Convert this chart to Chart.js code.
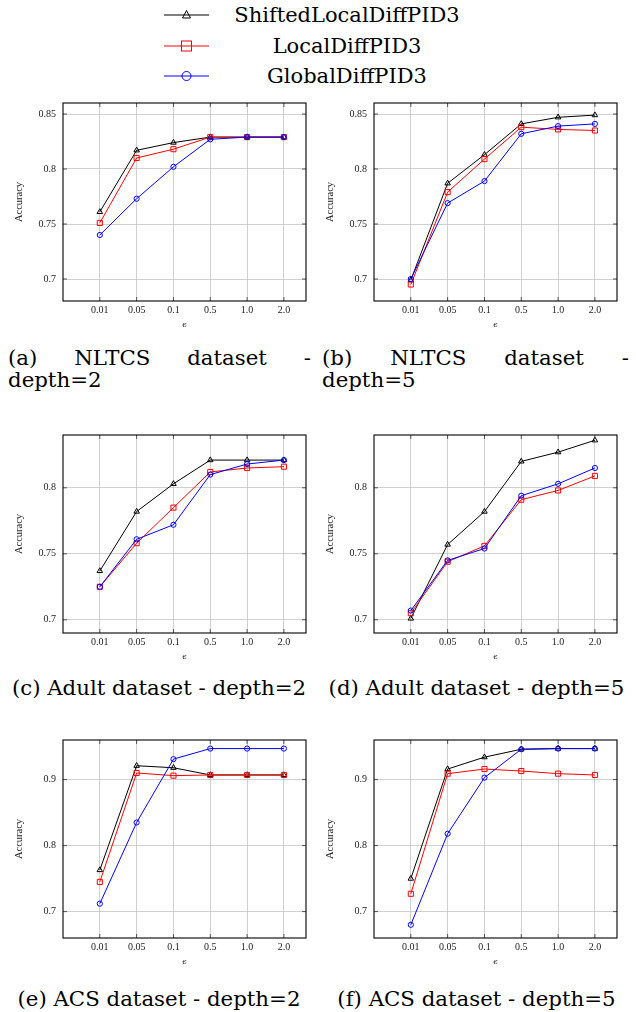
<!DOCTYPE html>
<html>
<head>
<meta charset="utf-8">
<script src="https://cdn.jsdelivr.net/npm/chart.js@4/dist/chart.umd.min.js"></script>
<style>
  html, body { margin: 0; padding: 0; background: #fff; }
  body { position: relative; width: 636px; height: 1012px; overflow: hidden; }
  canvas.panel { position: absolute; }
  .leg-row { position: absolute; left: 0; width: 636px; height: 30px; }
  .leg-row svg { position: absolute; left: 163px; top: 0; }
  .leg-row span {
    position: absolute; left: 225px; width: 244px; text-align: center;
    font-family: "DejaVu Serif", serif; font-size: 21px; line-height: 30px; color: #000;
  }
  .cap {
    position: absolute; font-family: "DejaVu Serif", serif; font-size: 21.3px;
    line-height: 22px; color: #000;
  }
  .cap.just { text-align: justify; text-align-last: justify; }
  .cap.mid { text-align: center; white-space: nowrap; }
</style>
</head>
<body>

<div class="leg-row" style="top:0px">
  <svg width="48" height="30"><line x1="1" y1="15" x2="46" y2="15" stroke="#000" stroke-width="1"/>
    <polygon points="23.5,10.5 27.5,18 19.5,18" fill="none" stroke="#000" stroke-width="1"/></svg>
  <span>ShiftedLocalDiffPID3</span>
</div>
<div class="leg-row" style="top:31px">
  <svg width="48" height="30"><line x1="1" y1="15" x2="46" y2="15" stroke="#f00" stroke-width="1"/>
    <rect x="18.5" y="10" width="10" height="10" fill="none" stroke="#f00" stroke-width="1"/></svg>
  <span>LocalDiffPID3</span>
</div>
<div class="leg-row" style="top:61px">
  <svg width="48" height="30"><line x1="1" y1="15" x2="46" y2="15" stroke="#00f" stroke-width="1"/>
    <circle cx="23.5" cy="15" r="4.5" fill="none" stroke="#00f" stroke-width="1"/></svg>
  <span>GlobalDiffPID3</span>
</div>

<canvas class="panel" id="chartA" width="311" height="245" style="left:5px;top:90px"></canvas>
<canvas class="panel" id="chartB" width="311" height="245" style="left:316px;top:90px"></canvas>
<canvas class="panel" id="chartC" width="311" height="245" style="left:5px;top:422px"></canvas>
<canvas class="panel" id="chartD" width="311" height="245" style="left:316px;top:422px"></canvas>
<canvas class="panel" id="chartE" width="311" height="245" style="left:5px;top:727px"></canvas>
<canvas class="panel" id="chartF" width="311" height="245" style="left:316px;top:727px"></canvas>

<div class="cap just" style="left:8px;top:347px;width:303px">(a) NLTCS dataset -<br>depth=2</div>
<div class="cap just" style="left:322px;top:347px;width:307px">(b) NLTCS dataset -<br>depth=5</div>
<div class="cap mid" style="left:8px;top:677px;width:302px">(c) Adult dataset - depth=2</div>
<div class="cap mid" style="left:323px;top:677px;width:307px">(d) Adult dataset - depth=5</div>
<div class="cap mid" style="left:8px;top:988px;width:302px">(e) ACS dataset - depth=2</div>
<div class="cap mid" style="left:323px;top:988px;width:307px">(f) ACS dataset - depth=5</div>

<script>
// epsilon values on the x axis
const epsLabels = ["0.01", "0.05", "0.1", "0.5", "1.0", "2.0"];
const seriesNames = ["ShiftedLocalDiffPID3", "LocalDiffPID3", "GlobalDiffPID3"];

// NLTCS, depth=2
const nltcs2Shifted = [0.761, 0.817, 0.824, 0.829, 0.829, 0.829];
const nltcs2Local = [0.751, 0.810, 0.818, 0.829, 0.829, 0.829];
const nltcs2Global = [0.740, 0.773, 0.802, 0.827, 0.829, 0.829];

// NLTCS, depth=5
const nltcs5Shifted = [0.699, 0.787, 0.813, 0.841, 0.847, 0.849];
const nltcs5Local = [0.695, 0.779, 0.809, 0.838, 0.836, 0.835];
const nltcs5Global = [0.700, 0.769, 0.789, 0.832, 0.839, 0.841];

// Adult, depth=2
const adult2Shifted = [0.737, 0.782, 0.803, 0.821, 0.821, 0.821];
const adult2Local = [0.725, 0.758, 0.785, 0.812, 0.815, 0.816];
const adult2Global = [0.725, 0.761, 0.772, 0.810, 0.818, 0.821];

// Adult, depth=5
const adult5Shifted = [0.701, 0.757, 0.782, 0.820, 0.827, 0.836];
const adult5Local = [0.705, 0.744, 0.756, 0.791, 0.798, 0.809];
const adult5Global = [0.707, 0.745, 0.754, 0.794, 0.803, 0.815];

// ACS, depth=2
const acs2Shifted = [0.763, 0.921, 0.918, 0.907, 0.907, 0.907];
const acs2Local = [0.745, 0.910, 0.906, 0.907, 0.907, 0.907];
const acs2Global = [0.712, 0.835, 0.931, 0.947, 0.947, 0.947];

// ACS, depth=5
const acs5Shifted = [0.750, 0.916, 0.934, 0.946, 0.947, 0.947];
const acs5Local = [0.727, 0.909, 0.916, 0.913, 0.909, 0.907];
const acs5Global = [0.680, 0.818, 0.903, 0.946, 0.947, 0.947];

// y ticks
const ticksNltcs = [0.7, 0.75, 0.8, 0.85];
const ticksAdult = [0.7, 0.75, 0.8];
const ticksAcs = [0.7, 0.8, 0.9];

const styles = [
  { color: "#000000", point: "triangle", radius: 3.2, order: 3 },
  { color: "#ff0000", point: "rect", radius: 3.6, order: 2 },
  { color: "#0000ff", point: "circle", radius: 2.6, order: 1 },
];

// black frame with small inner tick marks, like pgfplots
const framePlugin = {
  id: "frame",
  afterDraw(chart) {
    const { ctx, chartArea: a, scales } = chart;
    ctx.save();
    ctx.strokeStyle = "#333";
    ctx.lineWidth = 0.8;
    ctx.beginPath();
    scales.y.ticks.forEach(t => {
      const py = scales.y.getPixelForValue(t.value);
      ctx.moveTo(a.left, py); ctx.lineTo(a.left + 4, py);
      ctx.moveTo(a.right, py); ctx.lineTo(a.right - 4, py);
    });
    scales.x.ticks.forEach(t => {
      const px = scales.x.getPixelForValue(t.value);
      ctx.moveTo(px, a.bottom); ctx.lineTo(px, a.bottom - 4);
      ctx.moveTo(px, a.top); ctx.lineTo(px, a.top + 4);
    });
    ctx.stroke();
    ctx.strokeStyle = "#000";
    ctx.lineWidth = 1.1;
    ctx.strokeRect(a.left, a.top, a.right - a.left, a.bottom - a.top);
    ctx.restore();
  },
};

function makePanel(id, series, yMin, yMax, yTicks) {
  new Chart(document.getElementById(id), {
    type: "line",
    data: {
      datasets: series.map((vals, i) => ({
        label: seriesNames[i],
        data: vals.map((v, k) => ({ x: k, y: v })),
        borderColor: styles[i].color,
        borderWidth: 1,
        pointStyle: styles[i].point,
        pointRadius: styles[i].radius,
        pointBorderColor: styles[i].color,
        pointBackgroundColor: "rgba(255,255,255,0)",
        pointBorderWidth: 1,
        tension: 0,
        order: styles[i].order,
      })),
    },
    options: {
      responsive: false,
      animation: false,
      events: [],
      layout: { padding: { top: 9, right: 10, left: 0, bottom: 0 } },
      plugins: { legend: { display: false }, tooltip: { enabled: false } },
      scales: {
        x: {
          type: "linear",
          min: -1,
          max: 5.6,
          afterBuildTicks: s => { s.ticks = epsLabels.map((_, k) => ({ value: k })); },
          afterFit: s => { s.height = 34; },
          ticks: {
            padding: 3,
            maxRotation: 0,
            color: "#222",
            font: { family: "Liberation Serif", size: 10 },
            callback: v => epsLabels[v],
          },
          grid: { color: "#c4c4c4", lineWidth: 0.8, drawTicks: false },
          border: { display: false },
          title: {
            display: true,
            text: "ϵ",
            color: "#222",
            font: { family: "DejaVu Serif", size: 8 },
            padding: { top: 0, bottom: 5 },
          },
        },
        y: {
          min: yMin,
          max: yMax,
          afterBuildTicks: s => { s.ticks = yTicks.map(v => ({ value: v })); },
          afterFit: s => { s.width = 58; },
          ticks: {
            padding: 7,
            color: "#222",
            font: { family: "Liberation Serif", size: 10 },
            callback: v => String(+v.toFixed(2)),
          },
          grid: { color: "#c4c4c4", lineWidth: 0.8, drawTicks: false },
          border: { display: false },
          title: {
            display: true,
            text: "Accuracy",
            color: "#222",
            font: { family: "Liberation Serif", size: 10.5 },
            padding: { top: 8, bottom: 0 },
          },
        },
      },
    },
    plugins: [framePlugin],
  });
}

makePanel("chartA", [nltcs2Shifted, nltcs2Local, nltcs2Global], 0.68, 0.86, ticksNltcs);
makePanel("chartB", [nltcs5Shifted, nltcs5Local, nltcs5Global], 0.68, 0.86, ticksNltcs);
makePanel("chartC", [adult2Shifted, adult2Local, adult2Global], 0.69, 0.84, ticksAdult);
makePanel("chartD", [adult5Shifted, adult5Local, adult5Global], 0.69, 0.84, ticksAdult);
makePanel("chartE", [acs2Shifted, acs2Local, acs2Global], 0.66, 0.96, ticksAcs);
makePanel("chartF", [acs5Shifted, acs5Local, acs5Global], 0.66, 0.96, ticksAcs);
</script>
</body>
</html>
